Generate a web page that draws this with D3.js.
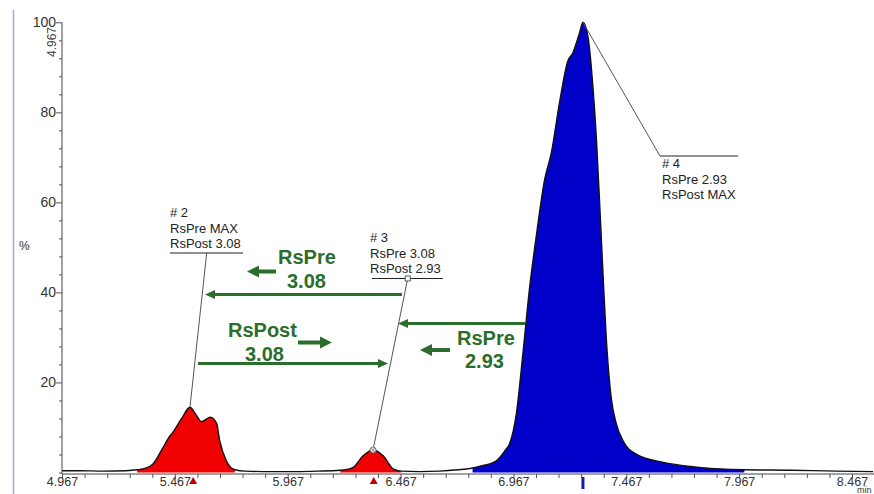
<!DOCTYPE html>
<html><head><meta charset="utf-8">
<script src="https://cdn.jsdelivr.net/npm/d3@7"></script>
<style>body{margin:0;background:#fff}svg{display:block}text{font-family:"Liberation Sans",Arial,sans-serif}</style>
</head><body><svg id="c" width="874" height="494"></svg>
<script>
// ---- data ----
const traceTimes = [4.967,5.05,5.15,5.25,5.30,5.334,5.370,5.414,5.445,5.458,5.497,5.534,5.56,5.585,5.625,5.652,5.666,5.696,5.733,5.78,5.9,6.0,6.1,6.2,6.229,6.256,6.301,6.345,6.390,6.434,6.47,6.55,6.64,6.72,6.786,6.82,6.891,6.93,6.950,6.980,7.009,7.039,7.068,7.105,7.135,7.171,7.208,7.230,7.260,7.275,7.297,7.319,7.334,7.349,7.363,7.378,7.400,7.423,7.452,7.511,7.627,7.778,7.990,8.2,8.4,8.56];
const traceValues = [0.4,0.4,0.3,0.4,0.6,0.9,1.9,5.5,8.1,8.9,12.0,14.5,12.9,11.3,12.3,10.9,7.0,2.5,0.6,0.3,0.2,0.2,0.3,0.5,0.7,1.1,3.7,5.0,3.7,0.8,0.3,0.2,0.3,0.6,1.0,1.4,2.6,4.9,6.4,13.1,26.4,41.2,52.4,65.0,71.0,82.1,91.4,93.2,97.7,100,96.9,85.8,74.7,59.8,45.0,30.1,16.7,10.8,7.1,4.1,2.3,1.2,0.6,0.5,0.3,0.2];
const peakStart = [5.29, 6.20, 6.77];
const peakEnd = [5.76, 6.47, 7.99];
const peakApexTime = [5.534, 6.345, 7.275];
const peakApexValue = [14.5, 5.0, 100];
const peakMarkerTime = [5.548, 6.348, 7.275];
const peakColors = ["#f00000", "#f00000", "#0000c8"];
const peakLabels = [["# 2","RsPre MAX","RsPost 3.08"],["# 3","RsPre 3.08","RsPost 2.93"],["# 4","RsPre 2.93","RsPost MAX"]];
const xTickLabels = ["4.967","5.467","5.967","6.467","6.967","7.467","7.967","8.467"];
const yTickLabels = [20,40,60,80,100];
const arrowTexts = [["RsPre","3.08"],["RsPost","3.08"],["RsPre","2.93"]];

// ---- layout ----
const svg = d3.select("#c");
const x = d3.scaleLinear().domain([4.967, 8.467]).range([62, 852]);
const y = d3.scaleLinear().domain([0, 100]).range([472.5, 22.3]);
const axisY = 474;
const green = "#2b6d2b";

// left lavender border line
svg.append("line").attr("x1",13.5).attr("x2",13.5).attr("y1",10).attr("y2",494)
  .attr("stroke","#a3a9d9").attr("stroke-width",1.5);

// fills
const area = d3.area().x((d)=>x(d[0])).y0(y(0)).y1((d)=>y(d[1])).curve(d3.curveMonotoneX);
const pts = traceTimes.map((t,i)=>[t, traceValues[i]]);
peakStart.forEach((s,i)=>{
  const sub = pts.filter(p=>p[0]>=s && p[0]<=peakEnd[i]);
  svg.append("path").attr("d", area(sub)).attr("fill", peakColors[i]);
});
// trace line
const line = d3.line().x((d)=>x(d[0])).y((d)=>y(d[1])).curve(d3.curveMonotoneX);
svg.append("path").attr("d", line(pts)).attr("fill","none").attr("stroke","#111").attr("stroke-width",1.4);

// x axis
const xMinor = d3.range(0, 37).map(i=>4.967 + i*0.1);
const xAxis = d3.axisBottom(x).tickValues(xMinor).tickSize(4).tickSizeOuter(0)
  .tickFormat((d,i)=> i%5===0 ? xTickLabels[i/5] : "");
const gx = svg.append("g").attr("transform",`translate(0,${axisY})`).call(xAxis);
gx.select(".domain").attr("d", `M62,0H874`).attr("stroke","#444");
gx.selectAll(".tick line").attr("stroke","#555");
gx.selectAll(".tick text").attr("font-size","12.5px").attr("fill","#333").attr("dy","0.42em").attr("font-family","Liberation Sans, Arial, sans-serif");
svg.append("text").attr("x",857).attr("y",493).attr("font-size","9px").attr("fill","#333").text("min");

// y axis
const yMinor = d3.range(0, 101, 4);
const yAxis = d3.axisLeft(y).tickValues(yMinor).tickSizeOuter(0).tickSize(3)
  .tickFormat(d => yTickLabels.includes(d) ? String(d) : "");
const gy = svg.append("g").attr("transform","translate(62,0)").call(yAxis);
gy.select(".domain").attr("d", `M0,${y(100)}V${axisY}`).attr("stroke","#444");
gy.selectAll(".tick").filter(d=>yTickLabels.includes(d)).select("line").attr("x2",-6);
gy.selectAll(".tick line").attr("stroke","#555");
gy.selectAll(".tick text").attr("font-size","14px").attr("fill","#333").attr("x",-6).attr("font-family","Liberation Sans, Arial, sans-serif");
svg.append("text").attr("x",19).attr("y",250).attr("font-size","12px").attr("fill","#333").text("%");
svg.append("text").attr("transform","translate(56,42) rotate(-90)").attr("text-anchor","middle")
  .attr("font-size","12px").attr("fill","#444").text(xTickLabels[0]);

// peak markers under axis
[0,1].forEach(i=>{
  const cx = x(peakMarkerTime[i]);
  svg.append("path").attr("d",`M${cx-4},484L${cx+4},484L${cx},477Z`).attr("fill","#c00000");
});
svg.append("rect").attr("x", x(peakMarkerTime[2])-1.5).attr("y",477).attr("width",3).attr("height",12).attr("fill","#1a1aa8");

// annotation labels
const labelLayout = [
  {tx:170, ty:217, ux1:170, ux2:243, uy:253, ax:206.7, ay:253, sq:false},
  {tx:370, ty:242, ux1:372, ux2:443, uy:278.5, ax:407.7, ay:278.5, sq:true},
  {tx:662, ty:168, ux1:660, ux2:738, uy:156, ax:660, ay:156, sq:false}
];
labelLayout.forEach((L,i)=>{
  svg.append("line").attr("x1",L.ax).attr("y1",L.ay).attr("x2",x(peakApexTime[i])).attr("y2",y(peakApexValue[i]))
    .attr("stroke","#555").attr("stroke-width",1);
  svg.append("line").attr("x1",L.ux1).attr("x2",L.ux2).attr("y1",L.uy).attr("y2",L.uy).attr("stroke","#222").attr("stroke-width",1);
  peakLabels[i].forEach((t,k)=>{
    svg.append("text").attr("x",L.tx).attr("y",L.ty+k*15.5).attr("font-size","13px").attr("fill","#222").text(t);
  });
  if (L.sq) svg.append("rect").attr("x",L.ax-2.5).attr("y",L.ay-2.5).attr("width",5).attr("height",5).attr("fill","#fff").attr("stroke","#333").attr("stroke-width",0.8);
});
// apex marker peak 3
{
  const cx = x(peakApexTime[1]), cy = y(peakApexValue[1]);
  svg.append("circle").attr("cx",cx).attr("cy",cy).attr("r",3).attr("fill","#ddd").attr("stroke","#666").attr("stroke-width",0.8);
  svg.append("path").attr("d",`M${cx-2},${cy-2}L${cx+2},${cy+2}M${cx-2},${cy+2}L${cx+2},${cy-2}`).attr("stroke","#888").attr("stroke-width",0.7);
}

// green arrows
function arrow(x1, x2, yy, w, hl, hw){
  const dir = Math.sign(x2-x1);
  const base = x2 - dir*hl;
  svg.append("line").attr("x1",x1).attr("x2",base).attr("y1",yy).attr("y2",yy).attr("stroke",green).attr("stroke-width",w);
  svg.append("path").attr("d",`M${x2},${yy}L${base},${yy-hw/2}L${base},${yy+hw/2}Z`).attr("fill",green);
}
arrow(402, 205, 294.5, 3, 10, 9);
arrow(276, 247, 271.5, 4, 12, 12);
arrow(198, 388, 363.5, 3, 10, 9);
arrow(298, 332, 342.5, 4, 12, 12);
arrow(525, 398, 323.5, 3, 10, 9);
arrow(450, 420, 350, 4, 12, 12);

const arrowTextPos = [[278,264,287,288],[228,337,245,361],[457,345,465,368]];
arrowTexts.forEach((tt,i)=>{
  const p = arrowTextPos[i];
  svg.append("text").attr("x",p[0]).attr("y",p[1]).attr("font-size","20px").attr("font-weight","bold").attr("fill",green).text(tt[0]);
  svg.append("text").attr("x",p[2]).attr("y",p[3]).attr("font-size","20px").attr("font-weight","bold").attr("fill",green).text(tt[1]);
});
</script></body></html>
